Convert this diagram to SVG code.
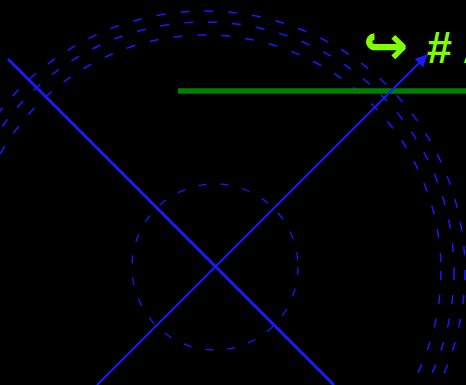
<svg xmlns="http://www.w3.org/2000/svg" width="466" height="385" viewBox="0 0 466 385">
<style>
.ring{fill:none;stroke:#1a1aff;stroke-width:1.5;stroke-dasharray:9 15}
.small{fill:none;stroke:#1a1aff;stroke-width:1.3;stroke-dasharray:8 14}
.lbl{font-family:"Liberation Sans","DejaVu Sans",sans-serif;font-size:45px;fill:#7fff00}
.sym{font-family:"DejaVu Sans",sans-serif;font-weight:bold;font-size:54px}
</style>
<defs>
<marker id="ah" viewBox="0 0 12 11" refX="12" refY="5.5" markerWidth="6.5" markerHeight="6" markerUnits="strokeWidth" orient="auto">
<path d="M0,0 L12,5.5 L0,11 z" fill="#1a1aff"/>
</marker>
</defs>
<rect width="466" height="385" fill="#000"/>
<g id="rings">
<circle class="ring" cx="205" cy="271" r="236"/>
<circle class="ring" cx="205" cy="271" r="249"/>
<circle class="ring" cx="205" cy="271" r="260"/>
</g>
<g id="small-circle">
<circle class="small" cx="215" cy="267" r="83"/>
</g>
<g id="green-bar">
<line x1="178" y1="91" x2="466" y2="91" stroke="#008000" stroke-width="5.5"/>
</g>
<g id="connectors">
<line x1="8" y1="59" x2="334" y2="385" stroke="#1a1aff" stroke-width="3"/>
<line x1="97" y1="385" x2="428" y2="54" stroke="#1a1aff" stroke-width="2" marker-end="url(#ah)"/>
</g>
<g id="label">
<text class="lbl" y="63"><tspan class="sym" x="363" dy="1">↪</tspan><tspan x="427" dy="-1" font-weight="bold"># A</tspan></text>
</g>
</svg>
